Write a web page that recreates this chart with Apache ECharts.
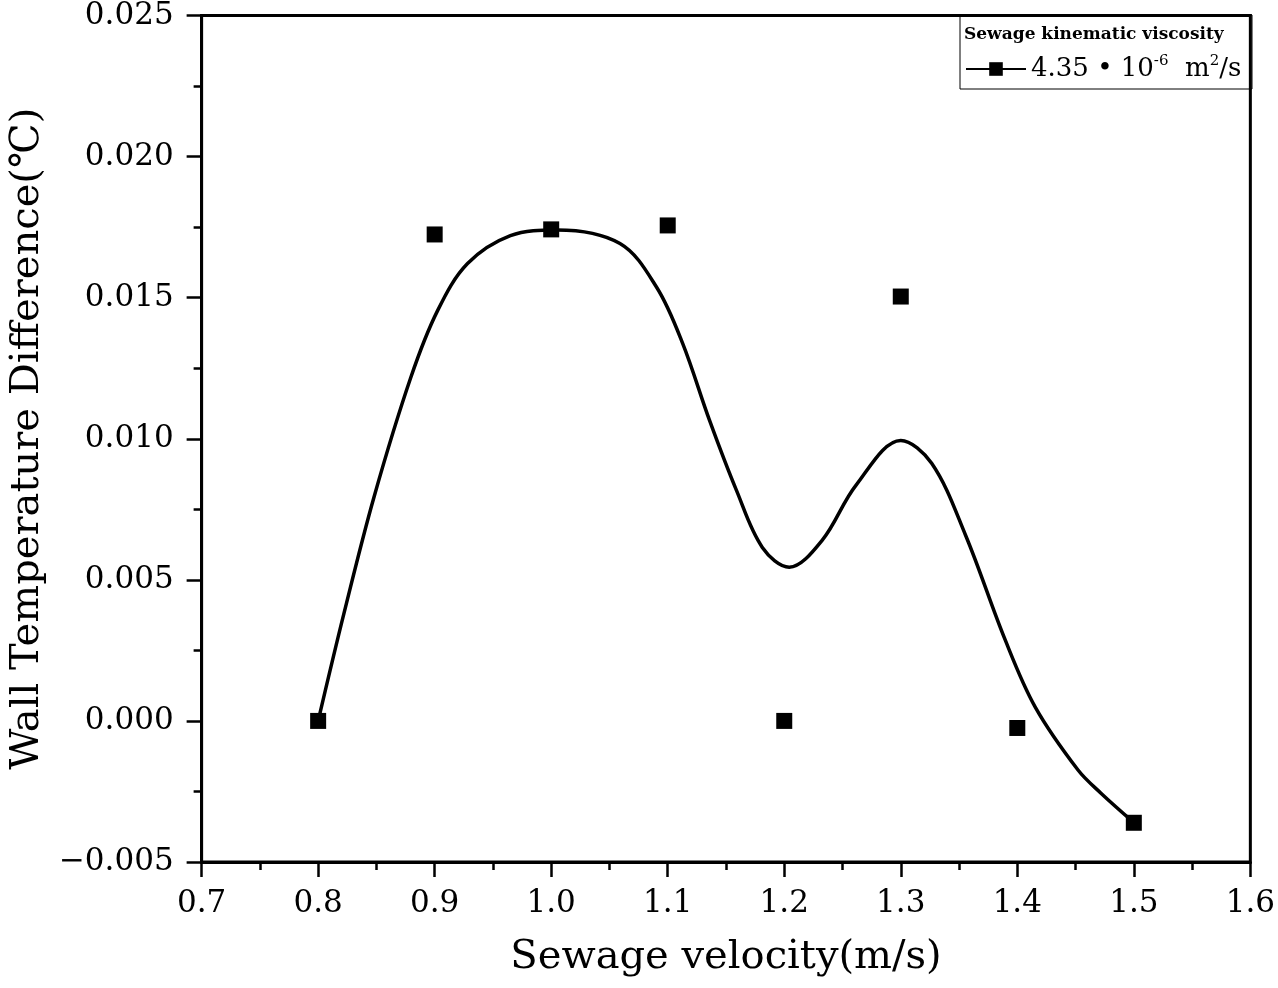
<!DOCTYPE html>
<html>
<head>
<meta charset="utf-8">
<title>Wall Temperature Difference</title>
<script src="https://cdn.jsdelivr.net/npm/echarts@6/dist/echarts.min.js"></script>
<style>
  html, body { margin: 0; padding: 0; background: #fff; }
  #chart { width: 1278px; height: 988px; }
</style>
</head>
<body>
<div id="chart"></div>
<script>
// measured points (velocity m/s, wall temperature difference)
const velocity = [0.8, 0.9, 1.0, 1.1, 1.2, 1.3, 1.4, 1.5]
const tempDiff = [0.0, 0.01724, 0.01742, 0.01756, 0.0, 0.01504, -0.00025, -0.00361]

// fitted curve, points
const curveX = [0.8, 0.8222, 0.8479, 0.8795, 0.9026, 0.9282, 0.965, 1.005, 1.059, 1.0906,
  1.1128, 1.1359, 1.159, 1.1812, 1.2043, 1.2325, 1.2615, 1.3, 1.3265, 1.3556,
  1.3897, 1.4154, 1.4521, 1.4718, 1.5]
const curveY = [0.0, 0.00382, 0.00793, 0.01217, 0.01455, 0.01621, 0.0172, 0.0174, 0.01692, 0.01536,
  0.01338, 0.01065, 0.00817, 0.00615, 0.00545, 0.0064, 0.00835, 0.00994, 0.00913, 0.00658,
  0.00286, 0.00049, -0.00174, -0.00256, -0.0036]

const seriesName = '4.35•10-6 m2/s'
const legendTitle = 'Sewage kinematic viscosity'
const xTitle = 'Sewage velocity(m/s)'
const yTitle = 'Wall Temperature Difference(℃)'

const font = 'DejaVu Serif'

const chart = echarts.init(document.getElementById('chart'))

const axisLine = { color: '#000', width: 3 }
const tickLine = { color: '#000', width: 2.5 }

const option = {
  backgroundColor: '#fff',
  animation: false,
  title: {
    text: legendTitle,
    left: 964,
    top: 26,
    padding: 0,
    textStyle: { fontFamily: font, fontSize: 17, fontWeight: 'bold', color: '#000' }
  },
  graphic: [
    {
      type: 'rect',
      shape: { x: 960, y: 15, width: 292, height: 74 },
      style: { fill: 'none', stroke: '#000', lineWidth: 1 },
      z: 10
    }
  ],
  legend: {
    data: [seriesName],
    left: 965,
    top: 54,
    padding: 0,
    itemWidth: 60,
    itemHeight: 17,
    formatter: function () {
      return '{a|4.35 • 10}{s|-6}{a|  m}{s|2}{a|/s}'
    },
    textStyle: {
      fontFamily: font,
      color: '#000',
      rich: {
        a: { fontFamily: font, fontSize: 26, color: '#000', lineHeight: 30 },
        s: { fontFamily: font, fontSize: 15, color: '#000', lineHeight: 15, verticalAlign: 'top' }
      }
    }
  },
  grid: {
    left: 201,
    right: 26,
    top: 15,
    bottom: 126,
    show: true,
    borderColor: '#000',
    borderWidth: 3
  },
  xAxis: {
    type: 'value',
    min: 0.7,
    max: 1.6,
    interval: 0.1,
    name: xTitle,
    nameLocation: 'middle',
    nameGap: 76,
    nameTextStyle: { fontFamily: font, fontSize: 40, color: '#000' },
    axisLine: { show: true, onZero: false, lineStyle: axisLine },
    axisTick: { show: true, inside: false, length: 15, lineStyle: tickLine },
    minorTick: { show: true, splitNumber: 2, length: 8, lineStyle: tickLine },
    splitLine: { show: false },
    axisLabel: {
      fontFamily: font,
      fontSize: 31,
      color: '#000',
      margin: 26,
      formatter: v => v.toFixed(1)
    }
  },
  yAxis: {
    type: 'value',
    min: -0.005,
    max: 0.025,
    interval: 0.005,
    name: yTitle,
    nameLocation: 'middle',
    nameGap: 142,
    nameTextStyle: { fontFamily: font, fontSize: 40, color: '#000' },
    axisLine: { show: true, onZero: false, lineStyle: axisLine },
    axisTick: { show: true, inside: false, length: 15, lineStyle: tickLine },
    minorTick: { show: true, splitNumber: 2, length: 8, lineStyle: tickLine },
    splitLine: { show: false },
    axisLabel: {
      fontFamily: font,
      fontSize: 31,
      color: '#000',
      margin: 28,
      formatter: v => v.toFixed(3).replace('-', '−')
    }
  },
  series: [
    {
      name: seriesName,
      type: 'line',
      data: curveX.map((x, i) => [x, curveY[i]]),
      smooth: 0.35,
      symbol: 'rect',
      showSymbol: false,
      lineStyle: { color: '#000', width: 3.5 },
      itemStyle: { color: '#000' },
      z: 2
    },
    {
      name: 'measured',
      type: 'scatter',
      data: velocity.map((x, i) => [x, tempDiff[i]]),
      symbol: 'rect',
      symbolSize: 16,
      itemStyle: { color: '#000', opacity: 1 },
      z: 3
    }
  ]
}

chart.setOption(option)
window.addEventListener('resize', chart.resize)
</script>
</body>
</html>
